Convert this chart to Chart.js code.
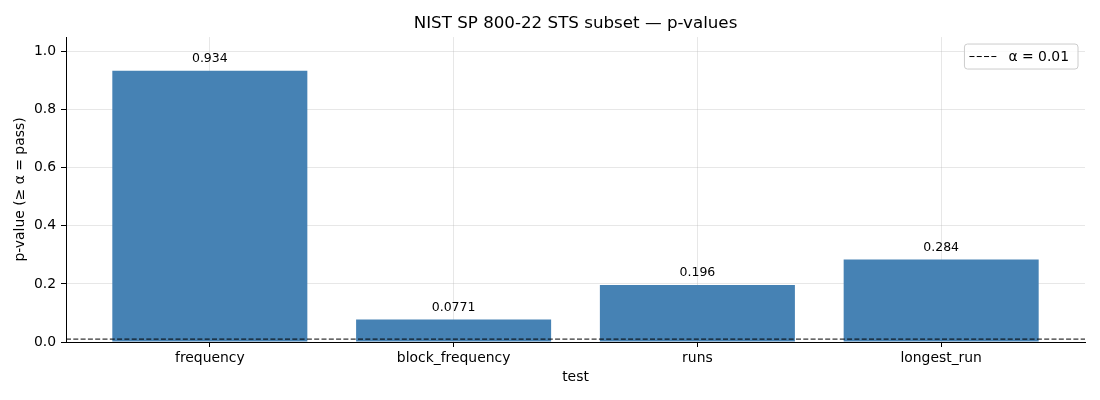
<!DOCTYPE html>
<html>
<head>
<meta charset="utf-8">
<script src="https://cdn.jsdelivr.net/npm/chart.js@4.4.1/dist/chart.umd.min.js"></script>
<style>
    body { margin: 0; background: #fff; }
    #chartContainer { width: 1100px; height: 400px; }
</style>
</head>
<body>
<div id="chartContainer"><canvas id="Chart1"></canvas></div>
<script>
// data
const tests = ['frequency', 'block_frequency', 'runs', 'longest_run'];
const pValues = [0.934, 0.0771, 0.196, 0.284];
const pLabels = ['0.934', '0.0771', '0.196', '0.284'];
const yTicks = [0.0, 0.2, 0.4, 0.6, 0.8, 1.0];
const alpha = 0.01;
const xMin = -0.59;
const xMax = 3.59;
const yMax = 1.05;

const FONT = "'DejaVu Sans', sans-serif";
const gridColor = 'rgba(176, 176, 176, 0.3)';

// value labels above each bar
const barLabels = {
    id: 'barLabels',
    afterDatasetsDraw(chart) {
        const ctx = chart.ctx;
        const meta = chart.getDatasetMeta(1);
        ctx.save();
        ctx.font = `12.5px ${FONT}`;
        ctx.fillStyle = '#000';
        ctx.textAlign = 'center';
        ctx.textBaseline = 'bottom';
        meta.data.forEach((bar, i) => {
            ctx.fillText(pLabels[i], bar.x, bar.y - 6);
        });
        ctx.restore();
    }
};

// matplotlib-like legend box inside the plot, upper right
const boxLegend = {
    id: 'boxLegend',
    afterDraw(chart) {
        const ctx = chart.ctx;
        const area = chart.chartArea;
        const ds = chart.data.datasets[0];
        ctx.save();
        ctx.font = `13.9px ${FONT}`;
        const textW = ctx.measureText(ds.label).width;
        const w = 44 + textW + 9;
        const h = 25;
        const x = area.right - 7 - w;
        const y = area.top + 7;
        ctx.beginPath();
        ctx.roundRect(x, y, w, h, 3);
        ctx.fillStyle = 'rgba(255, 255, 255, 0.8)';
        ctx.fill();
        ctx.strokeStyle = '#cccccc';
        ctx.lineWidth = 1;
        ctx.stroke();
        ctx.beginPath();
        ctx.setLineDash(ds.borderDash);
        ctx.strokeStyle = ds.borderColor;
        ctx.moveTo(x + 5, y + h / 2);
        ctx.lineTo(x + 33, y + h / 2);
        ctx.stroke();
        ctx.setLineDash([]);
        ctx.fillStyle = '#000';
        ctx.textBaseline = 'middle';
        ctx.fillText(ds.label, x + 44, y + h / 2 + 1);
        ctx.restore();
    }
};

const ctx = document.getElementById('Chart1').getContext('2d');
const Chart1 = new Chart(ctx, {
    data: {
        datasets: [
            {
                type: 'line',
                label: 'α = 0.01',
                data: [{ x: xMin, y: alpha }, { x: xMax, y: alpha }],
                borderColor: '#000',
                borderWidth: 1,
                borderDash: [5, 2.3],
                pointRadius: 0,
                fill: false
            },
            {
                type: 'bar',
                label: 'p-value',
                data: pValues.map((v, i) => ({ x: i, y: v })),
                backgroundColor: '#4682b4',
                borderWidth: 0,
                inflateAmount: 0,
                barPercentage: 0.8,
                categoryPercentage: 1.0
            }
        ]
    },
    options: {
        responsive: true,
        maintainAspectRatio: false,
        animation: false,
        layout: { padding: { left: 0, right: 15, top: 0, bottom: 0 } },
        plugins: {
            legend: { display: false },
            tooltip: { enabled: false },
            title: {
                display: true,
                fullSize: false,
                text: 'NIST SP 800-22 STS subset — p-values',
                color: '#000',
                font: { family: FONT, size: 16.7, weight: 'normal' },
                padding: { top: 14, bottom: 3 }
            }
        },
        scales: {
            x: {
                type: 'linear',
                min: xMin,
                max: xMax,
                offset: false,
                z: 1,
                afterBuildTicks: (scale) => {
                    scale.ticks = tests.map((t, i) => ({ value: i }));
                },
                afterFit: (scale) => { scale.height = 58; },
                ticks: {
                    autoSkip: false,
                    maxRotation: 0,
                    padding: 3,
                    color: '#000',
                    font: { family: FONT, size: 13.9 },
                    callback: (v) => tests[v]
                },
                grid: {
                    offset: false,
                    color: gridColor,
                    tickColor: '#000',
                    tickLength: 5,
                    drawTicks: true
                },
                border: { display: true, color: '#000', width: 1 },
                title: {
                    display: true,
                    text: 'test',
                    color: '#000',
                    font: { family: FONT, size: 13.9 },
                    padding: { top: 0, bottom: 14 }
                }
            },
            y: {
                type: 'linear',
                min: 0,
                max: yMax,
                z: 1,
                afterBuildTicks: (scale) => {
                    scale.ticks = yTicks.map((v) => ({ value: v }));
                },
                afterFit: (scale) => { scale.width = 66; },
                ticks: {
                    padding: 5,
                    color: '#000',
                    font: { family: FONT, size: 13.9 },
                    callback: (v) => v.toFixed(1)
                },
                grid: {
                    color: gridColor,
                    tickColor: '#000',
                    tickLength: 5
                },
                border: { display: true, color: '#000', width: 1 },
                title: {
                    display: true,
                    text: 'p-value (≥ α = pass)',
                    color: '#000',
                    font: { family: FONT, size: 13.9 },
                    padding: { top: 12, bottom: 0 }
                }
            }
        }
    },
    plugins: [barLabels, boxLegend]
});
</script>
</body>
</html>
